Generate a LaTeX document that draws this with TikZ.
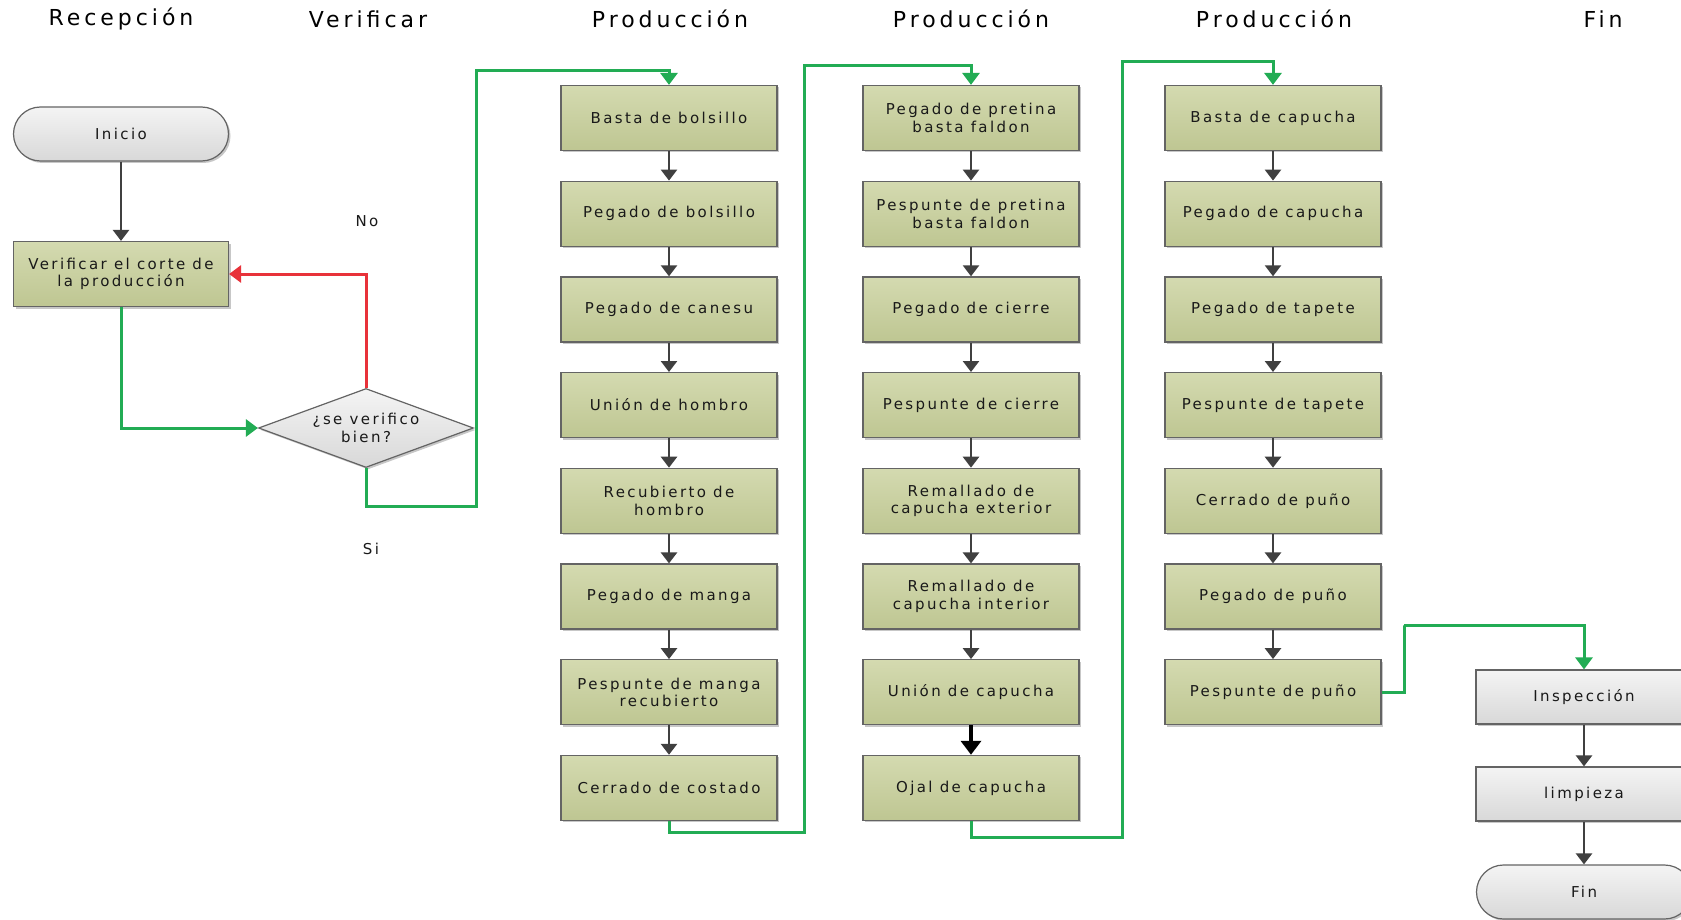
\documentclass[tikz,border=0pt]{standalone}
\usepackage{fontspec}
\setmainfont{DejaVu Sans}[LetterSpace=16]
\newfontfamily\hdfont{DejaVu Sans}[LetterSpace=18]
\usetikzlibrary{arrows.meta,shapes.geometric,shadows}
\definecolor{boxtop}{RGB}{212,218,176}
\definecolor{boxbot}{RGB}{190,198,146}
\definecolor{graytop}{RGB}{244,244,244}
\definecolor{graybot}{RGB}{216,216,216}
\definecolor{bord}{RGB}{100,100,100}
\definecolor{txt}{RGB}{25,25,25}
\definecolor{grn}{RGB}{34,172,84}
\definecolor{redl}{RGB}{232,50,58}
\definecolor{arrgray}{RGB}{64,64,64}
\tikzset{
  shad/.style={drop shadow={shadow xshift=2pt,shadow yshift=-2pt,fill=black,opacity=.22}},
  proc/.style={rectangle, draw=bord, line width=1.2pt, top color=boxtop, bottom color=boxbot,
    minimum width=216pt, minimum height=65pt, inner sep=2pt, align=center,
    font=\fontsize{15}{17.5}\selectfont, text=txt, shad},
  gproc/.style={proc, top color=graytop, bottom color=graybot, minimum height=54pt},
  term/.style={gproc, minimum width=215pt, rounded corners=27pt},
  decis/.style={diamond, aspect=2.72, draw=bord, line width=1.2pt, top color=graytop, bottom color=graybot,
    minimum width=215pt, minimum height=79pt, inner sep=0pt, align=center,
    font=\fontsize{15}{17.5}\selectfont, text=txt, shad},
  hdr/.style={font=\hdfont\fontsize{22}{25}\selectfont, text=black},
  lbl/.style={font=\fontsize{15}{17.5}\selectfont, text=txt},
  flow/.style={draw=arrgray, line width=2.6pt, -{Triangle[width=16pt,length=11pt]}},
  bflow/.style={draw=black, line width=4pt, -{Triangle[width=20pt,length=14pt]}},
  gline/.style={draw=grn, line width=3pt, -{Triangle[width=17pt,length=12pt]}},
  rline/.style={draw=redl, line width=3pt, -{Triangle[width=17pt,length=12pt]}},
}
\begin{document}
\begin{tikzpicture}[x=1pt,y=-1pt]
\clip (0,0) rectangle (1681,920);
\fill[white] (0,0) rectangle (1681,920);
% headers
\node[hdr] (h1) at (121,19) {Recepción};
\node[hdr] (h2) at (368,19) {Verificar};
\node[hdr] (h3) at (670,19) {Producción};
\node[hdr] (h4) at (971,19) {Producción};
\node[hdr] (h5) at (1274,19) {Producción};
\node[hdr] (h6) at (1603,19) {Fin};
% reception / verify
\node[term] (ini) at (121,134) {Inicio};
\node[proc, minimum width=215pt] (ver) at (121,274) {Verificar el corte de\\la producción};
\node[decis] (dia) at (366,428) {¿se verifico\\bien?};
\node[lbl] (no) at (367,221) {No};
\node[lbl] (si) at (371,549) {Si};
% column 1
\foreach \t [count=\i] in {Basta de bolsillo, Pegado de bolsillo, Pegado de canesu, Unión de hombro, {Recubierto de\\hombro}, Pegado de manga, {Pespunte de manga\\recubierto}, Cerrado de costado}{
  \node[proc] (a\i) at (669,{118+95.7*(\i-1)}) {\t};
}
\foreach \t [count=\i] in {{Pegado de pretina\\basta faldon}, {Pespunte de pretina\\basta faldon}, Pegado de cierre, Pespunte de cierre, {Remallado de\\capucha exterior}, {Remallado de\\capucha interior}, Unión de capucha, Ojal de capucha}{
  \node[proc] (b\i) at (971,{118+95.7*(\i-1)}) {\t};
}
\foreach \t [count=\i] in {Basta de capucha, Pegado de capucha, Pegado de tapete, Pespunte de tapete, Cerrado de puño, Pegado de puño, Pespunte de puño}{
  \node[proc] (c\i) at (1273,{118+95.7*(\i-1)}) {\t};
}
\node[gproc] (d1) at (1584,697) {Inspección};
\node[gproc] (d2) at (1584,794) {limpieza};
\node[term] (d3) at (1584,892) {Fin};
% gray flows
\draw[flow] (ini) -- (ver);
\foreach \i [evaluate=\i as \j using int(\i+1)] in {1,...,7}{
  \draw[flow] (a\i) -- (a\j);
}
\foreach \i [evaluate=\i as \j using int(\i+1)] in {1,...,6}{
  \draw[flow] (b\i) -- (b\j);
}
\draw[bflow] (b7) -- (b8);
\foreach \i [evaluate=\i as \j using int(\i+1)] in {1,...,6}{
  \draw[flow] (c\i) -- (c\j);
}
\draw[flow] (d1) -- (d2);
\draw[flow] (d2) -- (d3);
% green / red connectors
\draw[gline] (ver.south) |- (dia.west);
\draw[rline] (dia.north) |- (ver.east);
\draw[gline] (dia.south) -- (366,506) -- (476,506) -- (476,71) -| (a1.north);
\draw[gline] (a8.south) -- (669,832) -- (804,832) -- (804,66) -| (b1.north);
\draw[gline] (b8.south) -- (971,837) -- (1122,837) -- (1122,62) -| (c1.north);
\draw[gline] (c7.east) -- ++(23,0) |- (1404,625) -| (d1.north);
\end{tikzpicture}
\end{document}
